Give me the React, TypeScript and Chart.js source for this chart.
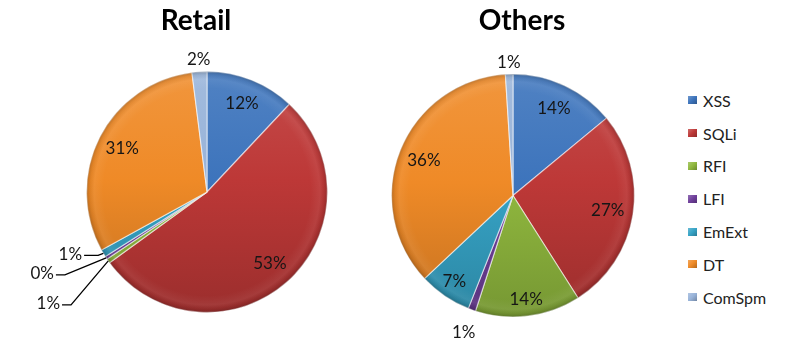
import React, { useEffect, useRef } from 'react';
import { Chart, registerables } from 'chart.js';

Chart.register(...registerables);

const categories = ['XSS', 'SQLi', 'RFI', 'LFI', 'EmExt', 'DT', 'ComSpm'];
const retailValues = [12, 53, 0.6, 0.4, 1, 31, 2];
const othersValues = [14, 27, 14, 1, 7, 36, 1];
const chartTitles = ['Retail', 'Others'];
const sliceColors = ['#3d74bc', '#bd3837', '#90b83e', '#6f3f9b', '#36a3c6', '#ef8a27', '#98b3d9'];

const FONT = 'Lato, "Open Sans", "DejaVu Sans", sans-serif';

function shade(hex: string, amt: number): string {
  const n = parseInt(hex.slice(1), 16);
  let r = (n >> 16) & 255, g = (n >> 8) & 255, b = n & 255;
  const f = (c: number) => {
    const v = amt >= 0 ? c + (255 - c) * amt : c * (1 + amt);
    return Math.max(0, Math.min(255, Math.round(v)));
  };
  r = f(r); g = f(g); b = f(b);
  return `rgb(${r},${g},${b})`;
}

const titlePlugin = {
  id: 'fixedTitle',
  afterDraw(chart: any, _args: any, opts: any) {
    const ctx = chart.ctx;
    ctx.save();
    ctx.font = `bold 28px ${FONT}`;
    ctx.fillStyle = '#000';
    ctx.textAlign = 'center';
    ctx.textBaseline = 'alphabetic';
    ctx.fillText(opts.text, opts.x, opts.y);
    ctx.restore();
  },
};

const rimShade = {
  id: 'rimShade',
  afterDatasetsDraw(chart: any) {
    const meta = chart.getDatasetMeta(0);
    const el = meta.data[0];
    if (!el) return;
    const p = el.getProps(['x', 'y', 'outerRadius'], true);
    const ctx = chart.ctx;
    ctx.save();
    const g = ctx.createRadialGradient(p.x, p.y, p.outerRadius * 0.86, p.x, p.y, p.outerRadius);
    g.addColorStop(0, 'rgba(255,255,255,0)');
    g.addColorStop(0.55, 'rgba(255,255,255,0.06)');
    g.addColorStop(0.8, 'rgba(0,0,0,0.06)');
    g.addColorStop(1, 'rgba(0,0,0,0.2)');
    ctx.beginPath();
    ctx.arc(p.x, p.y, p.outerRadius, 0, Math.PI * 2);
    ctx.fillStyle = g;
    ctx.fill();
    ctx.restore();
  },
};

const pieLabels = {
  id: 'pieLabels',
  afterDatasetsDraw(chart: any, _args: any, opts: any) {
    const ctx = chart.ctx;
    const meta = chart.getDatasetMeta(0);
    const ds = chart.data.datasets[0].data as number[];
    const total = ds.reduce((a: number, b: number) => a + b, 0);
    ctx.save();
    ctx.font = `17px ${FONT}`;
    ctx.textAlign = 'center';
    ctx.textBaseline = 'middle';
    ctx.fillStyle = '#161616';
    ctx.strokeStyle = '#000';
    ctx.lineWidth = 1.3;
    meta.data.forEach((el: any, i: number) => {
      const p = el.getProps(['x', 'y', 'startAngle', 'endAngle', 'outerRadius'], true);
      const mid = (p.startAngle + p.endAngle) / 2;
      const txt = Math.round((ds[i] / total) * 100) + '%';
      const place = (opts.placement && opts.placement[i]) || {};
      if (place.leader) {
        const ax = p.x + Math.cos(mid) * p.outerRadius;
        const ay = p.y + Math.sin(mid) * p.outerRadius;
        const lx = ax + place.leader[0];
        const ly = ay + place.leader[1];
        const w = ctx.measureText(txt).width;
        const right = lx + w / 2 + 2;
        ctx.beginPath();
        ctx.moveTo(ax, ay);
        ctx.lineTo(right + place.elbow, ly + 1);
        ctx.lineTo(right, ly + 1);
        ctx.stroke();
        ctx.fillText(txt, lx, ly);
      } else {
        const d = place.out !== undefined ? p.outerRadius + place.out : p.outerRadius * (place.inR || 0.79);
        ctx.fillText(txt, p.x + Math.cos(mid) * d, p.y + Math.sin(mid) * d);
      }
    });
    ctx.restore();
  },
};

function gradientFill(c: any) {
  const chart = c.chart;
  const base = sliceColors[c.dataIndex % sliceColors.length];
  const a = chart.chartArea;
  if (!a) return base;
  const g = chart.ctx.createLinearGradient(0, a.top, 0, a.bottom);
  g.addColorStop(0, shade(base, 0.1));
  g.addColorStop(0.45, base);
  g.addColorStop(1, shade(base, -0.18));
  return g;
}

function makeConfig(values: number[], title: string, tx: number, padding: any, placement: any): any {
  return {
    type: 'pie',
    data: {
      labels: categories,
      datasets: [
        {
          data: values,
          backgroundColor: gradientFill,
          borderColor: 'rgba(255,255,255,0.55)',
          borderWidth: 1.2,
        },
      ],
    },
    options: {
      responsive: false,
      animation: false,
      layout: { padding },
      plugins: {
        legend: { display: false },
        tooltip: { enabled: false },
        title: { display: false },
        fixedTitle: { text: title, x: tx, y: 30 },
        pieLabels: { placement },
      },
    },
    plugins: [rimShade, titlePlugin, pieLabels],
  };
}

function PieCanvas(props: { values: number[]; title: string; left: number; width: number; tx: number; padding: any; placement: any }) {
  const ref = useRef<HTMLCanvasElement | null>(null);
  useEffect(() => {
    if (!ref.current) return;
    const chart = new Chart(ref.current, makeConfig(props.values, props.title, props.tx, props.padding, props.placement));
    return () => chart.destroy();
  }, []);
  return (
    <canvas
      ref={ref}
      width={props.width}
      height={345}
      style={{ position: 'absolute', left: props.left, top: 0, width: props.width, height: 345 }}
    />
  );
}

export default function App() {
  const retailPlacement = {
    2: { leader: [-60, 43], elbow: 9 },
    3: { leader: [-64, 16], elbow: 9 },
    4: { leader: [-33, 1], elbow: 14 },
    6: { out: 12 },
  };
  const othersPlacement = {
    2: { inR: 0.86 },
    3: { out: 24 },
    4: { inR: 0.86 },
    6: { out: 12 },
  };
  return (
    <div style={{ position: 'absolute', left: 0, top: 0, width: 800, height: 345, background: '#fff', overflow: 'hidden' }}>
      <PieCanvas
        values={retailValues}
        title={chartTitles[0]}
        left={0}
        width={400}
        tx={196}
        padding={{ left: 86, right: 72, top: 71, bottom: 32 }}
        placement={retailPlacement}
      />
      <PieCanvas
        values={othersValues}
        title={chartTitles[1]}
        left={380}
        width={300}
        tx={142}
        padding={{ left: 11, right: 45, top: 73, bottom: 27 }}
        placement={othersPlacement}
      />
      <div style={{ position: 'absolute', left: 688, top: 84, fontFamily: FONT, fontSize: 16, color: '#222' }}>
        {categories.map((c, i) => (
          <div key={c} style={{ height: 32.8, display: 'flex', alignItems: 'center' }}>
            <span
              style={{
                display: 'inline-block',
                width: 9,
                height: 8,
                marginRight: 6,
                background: `linear-gradient(135deg, ${shade(sliceColors[i], 0.25)}, ${sliceColors[i]} 50%, ${shade(sliceColors[i], -0.25)})`,
              }}
            />
            <span>{c}</span>
          </div>
        ))}
      </div>
    </div>
  );
}
